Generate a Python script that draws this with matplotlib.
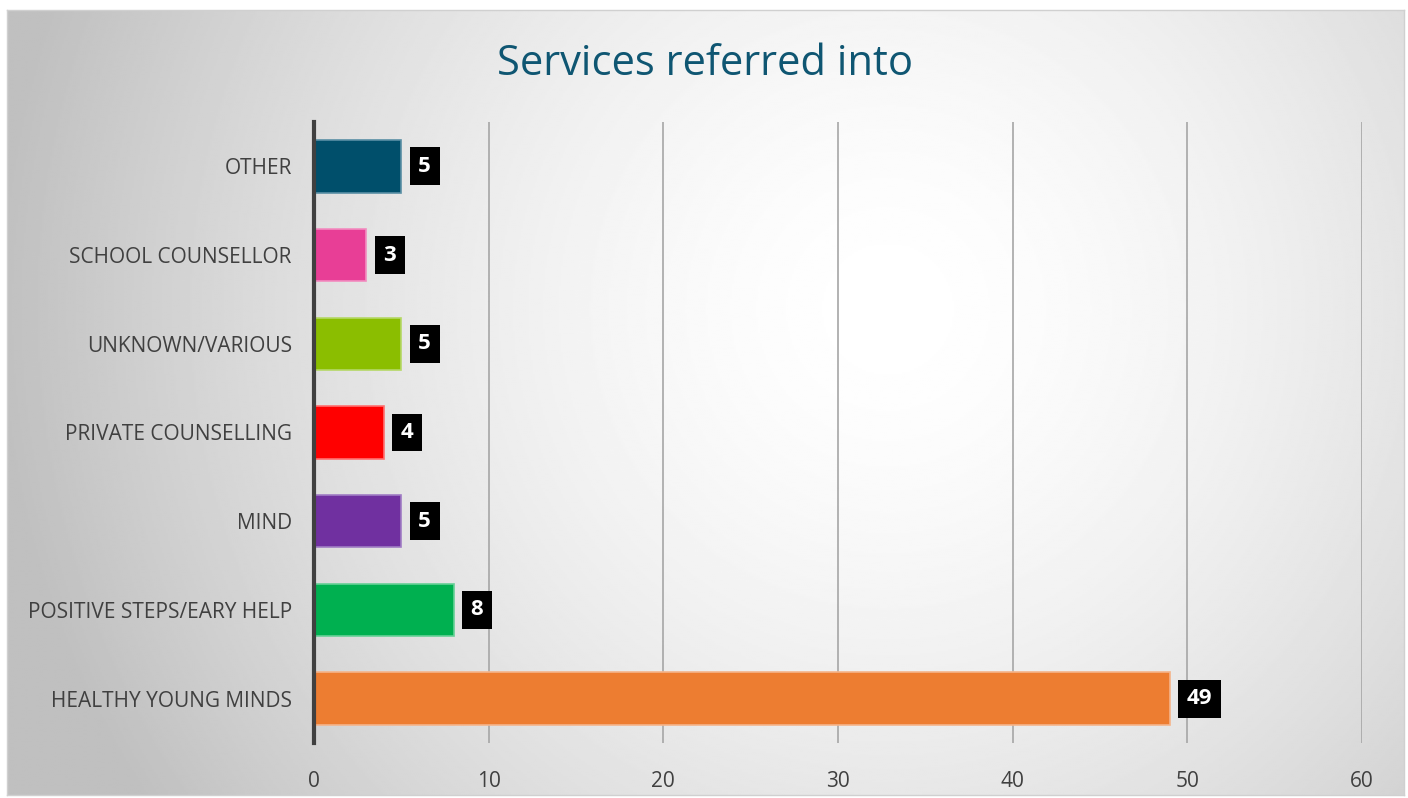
import numpy as np
import matplotlib.pyplot as plt

categories = ['HEALTHY YOUNG MINDS', 'POSITIVE STEPS/EARY HELP', 'MIND',
              'PRIVATE COUNSELLING', 'UNKNOWN/VARIOUS', 'SCHOOL COUNSELLOR', 'OTHER']
values = [49, 8, 5, 4, 5, 3, 5]
colors = ['#ED7D31', '#00B050', '#7030A0', '#FF0000', '#8BBE00', '#E83E96', '#004F6B']
edges = ['#F5B48A', '#66D096', '#A07CC4', '#FF7070', '#B5D866', '#F28CC0', '#5A8FA5']
xticks = [0, 10, 20, 30, 40, 50, 60]

plt.rcParams['font.family'] = ['Open Sans', 'DejaVu Sans']

fig = plt.figure(figsize=(14.08, 7.98), dpi=100)
fig.patch.set_facecolor('white')

# radial gradient background of the chart area
bg = fig.add_axes([7 / 1408, 1 - 795 / 798, 1397 / 1408, 785 / 798])
ny, nx = 400, 700
yy, xx = np.mgrid[0:ny, 0:nx]
cx, cy = 0.63 * nx, 0.38 * ny
d = np.sqrt(((xx - cx) / nx) ** 2 + ((yy - cy) / ny * 0.56) ** 2)
d = np.clip(d / 0.64, 0, 1)
g = 1.0 - 0.25 * d ** 1.6
bg.imshow(g, cmap='gray', vmin=0, vmax=1, aspect='auto', extent=[0, 1, 0, 1],
          interpolation='bilinear')
bg.set_xticks([])
bg.set_yticks([])
for s in bg.spines.values():
    s.set_color('#d0d0d0')
    s.set_linewidth(1)

ax = fig.add_axes([314 / 1408, 1 - 743 / 798, 1048 / 1408, 621 / 798])
ax.patch.set_alpha(0)
y = np.arange(len(categories))
ax.barh(y, values, height=0.59, color=colors, edgecolor=edges, linewidth=1.2, zorder=3)

for yi, v in zip(y, values):
    ax.annotate(str(v), xy=(v, yi), xytext=(17, 0), textcoords='offset pixels',
                ha='left', va='center', color='white', fontsize=16, fontweight='bold',
                bbox=dict(boxstyle='square,pad=0.38', facecolor='black', edgecolor='none'),
                zorder=4)

ax.set_xlim(0, 60)
ax.set_ylim(-0.5, 6.5)
ax.set_xticks(xticks)
ax.set_yticks(y)
ax.set_yticklabels(categories)
ax.tick_params(axis='both', length=0, labelsize=15, labelcolor='#404040')
ax.tick_params(axis='x', pad=20)
ax.tick_params(axis='y', pad=16)
ax.grid(axis='x', color='#a6a6a6', linewidth=1.2, zorder=0)
for s in ['top', 'right', 'bottom']:
    ax.spines[s].set_visible(False)
ax.spines['left'].set_color('#404040')
ax.spines['left'].set_linewidth(3)
ax.spines['left'].set_zorder(5)

fig.text(705 / 1408, 1 - 64 / 798, 'Services referred into', ha='center', va='center',
         fontsize=30, color='#0F5672')

fig.savefig('out.png', dpi=100)
